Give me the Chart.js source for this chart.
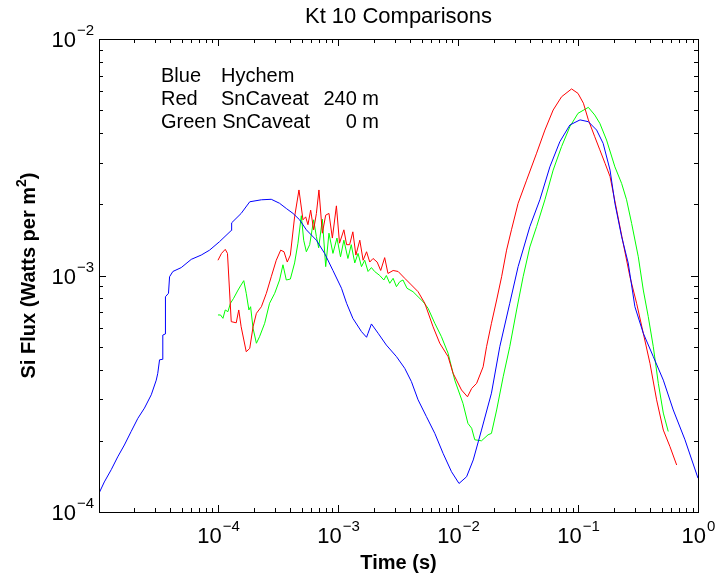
<!DOCTYPE html>
<html>
<head>
<meta charset="utf-8">
<script src="https://cdn.jsdelivr.net/npm/chart.js@4.4.1/dist/chart.umd.min.js"></script>
<style>
  html, body { margin: 0; padding: 0; background: #fff; }
  #wrap { width: 717px; height: 577px; }
</style>
</head>
<body>
<div id="wrap"><canvas id="canvasFlux" width="717" height="577"></canvas></div>
<script>
// Hychem (blue)
var blueTime = [1.02e-5, 1.13e-5, 1.29e-5, 1.46e-5, 1.66e-5, 1.89e-5, 2.15e-5, 2.44e-5, 2.78e-5, 3.06e-5,
    3.15e-5, 3.26e-5, 3.43e-5, 3.47e-5, 3.64e-5, 3.65e-5, 3.87e-5, 3.95e-5, 4.21e-5, 4.94e-5,
    5.99e-5, 7.25e-5, 8.51e-5, 1.03e-4, 1.29e-4, 1.30e-4, 1.56e-4, 1.84e-4, 2.30e-4, 2.78e-4,
    3.26e-4, 3.71e-4, 4.22e-4, 4.79e-4, 5.45e-4, 6.61e-4, 7.74e-4, 9.08e-4, 1.07e-3, 1.18e-3,
    1.33e-3, 1.57e-3, 1.73e-3, 1.78e-3, 1.90e-3, 2.16e-3, 2.53e-3, 3.07e-3, 3.60e-3, 4.09e-3,
    4.65e-3, 5.46e-3, 6.41e-3, 7.51e-3, 8.83e-3, 1.02e-2, 1.18e-2, 1.34e-2, 1.57e-2, 1.90e-2,
    2.23e-2, 2.70e-2, 3.17e-2, 3.97e-2, 4.81e-2, 5.83e-2, 7.06e-2, 8.56e-2, 1.04e-1, 1.22e-1,
    1.43e-1, 1.62e-1, 1.85e-1, 2.03e-1, 2.31e-1, 2.62e-1, 2.98e-1, 3.50e-1, 4.24e-1, 5.14e-1,
    6.22e-1, 7.79e-1, 1.0];
var blueFlux = [1.20e-4, 1.34e-4, 1.51e-4, 1.71e-4, 1.92e-4, 2.19e-4, 2.49e-4, 2.75e-4, 3.13e-4, 3.61e-4,
    3.86e-4, 4.40e-4, 4.42e-4, 5.60e-4, 5.66e-4, 8.13e-4, 8.41e-4, 9.88e-4, 1.04e-3, 1.08e-3,
    1.17e-3, 1.22e-3, 1.28e-3, 1.39e-3, 1.55e-3, 1.67e-3, 1.83e-3, 2.05e-3, 2.09e-3, 2.10e-3,
    2.02e-3, 1.92e-3, 1.83e-3, 1.72e-3, 1.56e-3, 1.41e-3, 1.24e-3, 1.05e-3, 8.83e-4, 7.63e-4,
    6.59e-4, 5.79e-4, 5.48e-4, 5.70e-4, 6.24e-4, 5.70e-4, 5.08e-4, 4.54e-4, 4.05e-4, 3.56e-4,
    2.98e-4, 2.53e-4, 2.15e-4, 1.77e-4, 1.48e-4, 1.32e-4, 1.41e-4, 1.66e-4, 2.22e-4, 3.18e-4,
    5.00e-4, 7.63e-4, 1.09e-3, 1.61e-3, 2.09e-3, 2.88e-3, 3.68e-3, 4.33e-3, 4.55e-3, 4.47e-3,
    4.12e-3, 3.62e-3, 2.79e-3, 2.02e-3, 1.46e-3, 1.13e-3, 7.38e-4, 5.70e-4, 4.54e-4, 3.61e-4,
    2.70e-4, 2.02e-4, 1.39e-4];

// SnCaveat 240 m (red)
var redTime = [1.00e-4, 1.07e-4, 1.15e-4, 1.20e-4, 1.29e-4, 1.42e-4, 1.49e-4, 1.56e-4, 1.72e-4, 1.84e-4,
    1.96e-4, 2.09e-4, 2.30e-4, 2.53e-4, 2.78e-4, 3.06e-4, 3.33e-4, 3.55e-4, 3.78e-4, 4.01e-4,
    4.35e-4, 4.73e-4, 5.11e-4, 5.38e-4, 5.62e-4, 5.92e-4, 6.27e-4, 6.61e-4, 6.94e-4, 7.41e-4,
    7.90e-4, 8.41e-4, 8.98e-4, 9.70e-4, 1.03e-3, 1.12e-3, 1.18e-3, 1.25e-3, 1.33e-3, 1.41e-3,
    1.52e-3, 1.62e-3, 1.73e-3, 1.84e-3, 1.96e-3, 2.12e-3, 2.27e-3, 2.45e-3, 2.61e-3, 2.88e-3,
    3.17e-3, 3.60e-3, 4.09e-3, 4.65e-3, 5.29e-3, 6.20e-3, 7.05e-3, 8.27e-3, 9.10e-3, 1.07e-2,
    1.20e-2, 1.30e-2, 1.43e-2, 1.62e-2, 1.73e-2, 1.90e-2, 2.10e-2, 2.31e-2, 2.54e-2, 2.79e-2,
    3.17e-2, 3.73e-2, 4.52e-2, 5.30e-2, 6.21e-2, 7.30e-2, 8.84e-2, 1.00e-1, 1.11e-1, 1.22e-1,
    1.38e-1, 1.52e-1, 1.68e-1, 1.85e-1, 2.10e-1, 2.38e-1, 2.71e-1, 3.08e-1, 3.50e-1, 3.98e-1,
    4.52e-1, 5.14e-1, 5.84e-1, 6.64e-1];
var redFlux = [1.16e-3, 1.24e-3, 1.29e-3, 1.24e-3, 6.38e-4, 6.31e-4, 7.15e-4, 6.07e-4, 4.76e-4, 4.92e-4,
    6.07e-4, 6.92e-4, 7.38e-4, 8.41e-4, 9.88e-4, 1.16e-3, 1.28e-3, 1.26e-3, 1.14e-3, 1.22e-3,
    1.77e-3, 2.30e-3, 1.72e-3, 1.77e-3, 1.64e-3, 1.89e-3, 1.56e-3, 1.83e-3, 2.30e-3, 1.51e-3,
    1.80e-3, 1.83e-3, 1.44e-3, 1.97e-3, 1.37e-3, 1.56e-3, 1.35e-3, 1.35e-3, 1.53e-3, 1.22e-3,
    1.41e-3, 1.16e-3, 1.26e-3, 1.14e-3, 1.18e-3, 1.14e-3, 1.05e-3, 1.19e-3, 1.02e-3, 1.05e-3,
    1.04e-3, 9.73e-4, 9.12e-4, 8.54e-4, 7.63e-4, 6.07e-4, 5.17e-4, 4.54e-4, 3.86e-4, 3.28e-4,
    3.07e-4, 3.33e-4, 3.50e-4, 4.11e-4, 5.00e-4, 6.28e-4, 7.88e-4, 9.88e-4, 1.28e-3, 1.56e-3,
    2.02e-3, 2.53e-3, 3.29e-3, 4.12e-3, 5.01e-3, 5.70e-3, 6.15e-3, 5.89e-3, 5.35e-3, 4.55e-3,
    3.86e-3, 3.40e-3, 2.98e-3, 2.62e-3, 1.89e-3, 1.37e-3, 9.88e-4, 7.63e-4, 5.70e-4, 4.25e-4,
    2.98e-4, 2.22e-4, 1.89e-4, 1.58e-4];

// SnCaveat 0 m (green)
var greenTime = [1.00e-4, 1.05e-4, 1.10e-4, 1.15e-4, 1.21e-4, 1.27e-4, 1.35e-4, 1.47e-4, 1.54e-4, 1.64e-4,
    1.72e-4, 1.81e-4, 1.87e-4, 1.96e-4, 2.09e-4, 2.22e-4, 2.45e-4, 2.69e-4, 2.97e-4, 3.26e-4,
    3.48e-4, 3.71e-4, 4.01e-4, 4.35e-4, 4.64e-4, 4.95e-4, 5.18e-4, 5.45e-4, 5.81e-4, 6.27e-4,
    6.61e-4, 6.90e-4, 7.41e-4, 7.90e-4, 8.41e-4, 9.08e-4, 9.81e-4, 1.05e-3, 1.12e-3, 1.21e-3,
    1.29e-3, 1.38e-3, 1.47e-3, 1.57e-3, 1.67e-3, 1.78e-3, 1.90e-3, 2.02e-3, 2.23e-3, 2.41e-3,
    2.53e-3, 2.70e-3, 2.88e-3, 3.07e-3, 3.27e-3, 3.48e-3, 3.76e-3, 4.22e-3, 4.65e-3, 5.12e-3,
    5.63e-3, 6.41e-3, 7.28e-3, 8.27e-3, 9.40e-3, 1.10e-2, 1.21e-2, 1.30e-2, 1.38e-2, 1.57e-2,
    1.78e-2, 1.90e-2, 2.10e-2, 2.38e-2, 2.70e-2, 3.08e-2, 3.49e-2, 3.97e-2, 4.52e-2, 5.30e-2,
    6.21e-2, 7.30e-2, 8.56e-2, 1.00e-1, 1.22e-1, 1.38e-1, 1.52e-1, 1.73e-1, 2.03e-1, 2.31e-1,
    2.54e-1, 2.80e-1, 3.18e-1, 3.50e-1, 3.85e-1, 4.24e-1, 4.67e-1, 5.14e-1, 5.65e-1];
var greenFlux = [6.81e-4, 6.81e-4, 6.59e-4, 7.15e-4, 7.03e-4, 7.63e-4, 8.01e-4, 8.68e-4, 9.03e-4, 9.51e-4,
    8.41e-4, 7.15e-4, 7.38e-4, 5.98e-4, 5.17e-4, 5.51e-4, 6.28e-4, 7.63e-4, 8.41e-4, 9.57e-4,
    1.11e-3, 9.57e-4, 9.66e-4, 1.13e-3, 1.37e-3, 1.79e-3, 1.41e-3, 1.26e-3, 1.35e-3, 1.72e-3,
    1.46e-3, 1.31e-3, 1.73e-3, 1.09e-3, 1.51e-3, 1.24e-3, 1.44e-3, 1.20e-3, 1.41e-3, 1.18e-3,
    1.35e-3, 1.13e-3, 1.24e-3, 1.09e-3, 1.16e-3, 1.04e-3, 1.08e-3, 1.04e-3, 1.00e-3, 9.57e-4,
    1.00e-3, 9.27e-4, 9.73e-4, 8.97e-4, 9.41e-4, 9.57e-4, 8.83e-4, 8.54e-4, 8.13e-4, 7.75e-4,
    7.27e-4, 6.28e-4, 5.51e-4, 4.69e-4, 3.61e-4, 2.88e-4, 2.37e-4, 2.26e-4, 2.02e-4, 2.00e-4,
    2.12e-4, 2.15e-4, 2.70e-4, 3.73e-4, 5.00e-4, 7.15e-4, 9.88e-4, 1.32e-3, 1.61e-3, 2.09e-3,
    2.79e-3, 3.51e-3, 4.26e-3, 4.85e-3, 5.14e-3, 4.77e-3, 4.40e-3, 3.74e-3, 2.88e-3, 2.45e-3,
    2.09e-3, 1.66e-3, 1.20e-3, 8.68e-4, 6.70e-4, 5.00e-4, 3.50e-4, 2.62e-4, 2.19e-4];

// axis ticks
var xMajor = [1e-4, 1e-3, 1e-2, 1e-1, 1e0];
var xMajorExp = ['\u22124', '\u22123', '\u22122', '\u22121', '0'];
var yMajor = [1e-4, 1e-3, 1e-2];
var yMajorExp = ['\u22124', '\u22123', '\u22122'];

var legendRows = [
    ['Blue', 'Hychem', ''],
    ['Red', 'SnCaveat', '240 m'],
    ['Green SnCaveat', '', '0 m']
];

function pairs(xs, ys) {
    let arr = [];
    for (let i = 0; i < xs.length; i++) {
        arr.push({ x: xs[i], y: ys[i] });
    }
    return arr;
}

var FONT = '"Liberation Sans", Arial, Helvetica, sans-serif';

function drawPow(ctx, exp, x, y, size, align) {
    // "10" with a raised exponent; align 'center' or 'right'
    let sup = 15;
    ctx.font = size + 'px ' + FONT;
    let wBase = ctx.measureText('10').width;
    ctx.font = sup + 'px ' + FONT;
    let wExp = ctx.measureText(exp).width;
    let start = align === 'right' ? x - wBase - wExp : x - (wBase + wExp) / 2;
    ctx.textAlign = 'left';
    ctx.textBaseline = 'alphabetic';
    ctx.font = size + 'px ' + FONT;
    ctx.fillText('10', start, y);
    ctx.font = sup + 'px ' + FONT;
    ctx.fillText(exp, start + wBase + 1, y - 12);
}

var axesPlugin = {
    id: 'matlabAxes',
    afterDraw: function (chart) {
        let ctx = chart.ctx;
        let a = chart.chartArea;
        let xs = chart.scales.x, ys = chart.scales.y;
        ctx.save();
        ctx.strokeStyle = '#000';
        ctx.lineWidth = 1;
        ctx.strokeRect(Math.round(a.left) + 0.5, Math.round(a.top) + 0.5,
            Math.round(a.right - a.left), Math.round(a.bottom - a.top));

        // ticks, inward on all four sides
        ctx.beginPath();
        for (let e = -5; e <= 0; e++) {
            for (let m = 1; m <= 9; m++) {
                let v = m * Math.pow(10, e);
                if (v < xs.min || v > xs.max) continue;
                let px = Math.round(xs.getPixelForValue(v)) + 0.5;
                let len = m === 1 ? 7 : 4;
                ctx.moveTo(px, a.bottom); ctx.lineTo(px, a.bottom - len);
                ctx.moveTo(px, a.top); ctx.lineTo(px, a.top + len);
            }
        }
        for (let e = -4; e <= -2; e++) {
            for (let m = 1; m <= 9; m++) {
                let v = m * Math.pow(10, e);
                if (v < ys.min * 0.999 || v > ys.max * 1.001) continue;
                let py = Math.round(ys.getPixelForValue(v)) + 0.5;
                let len = m === 1 ? 7 : 4;
                ctx.moveTo(a.left, py); ctx.lineTo(a.left + len, py);
                ctx.moveTo(a.right, py); ctx.lineTo(a.right - len, py);
            }
        }
        ctx.stroke();

        ctx.fillStyle = '#000';
        for (let i = 0; i < xMajor.length; i++) {
            let px = xs.getPixelForValue(xMajor[i]);
            drawPow(ctx, xMajorExp[i], px, a.bottom + 31, 22, 'center');
        }
        for (let i = 0; i < yMajor.length; i++) {
            let py = ys.getPixelForValue(yMajor[i]);
            drawPow(ctx, yMajorExp[i], a.left - 6, py + 8, 22, 'right');
        }

        // title
        ctx.textAlign = 'center';
        ctx.textBaseline = 'alphabetic';
        ctx.font = '22px ' + FONT;
        ctx.fillText('Kt 10 Comparisons', (a.left + a.right) / 2, 23);

        // x title
        ctx.font = 'bold 20px ' + FONT;
        ctx.fillText('Time (s)', (a.left + a.right) / 2, 569);

        // y title, rotated
        ctx.save();
        ctx.translate(35, (a.top + a.bottom) / 2);
        ctx.rotate(-Math.PI / 2);
        let p1 = 'Si Flux (Watts per m', p2 = '2', p3 = ')';
        ctx.font = 'bold 20px ' + FONT;
        let w1 = ctx.measureText(p1).width, w3 = ctx.measureText(p3).width;
        ctx.font = 'bold 14px ' + FONT;
        let w2 = ctx.measureText(p2).width;
        let sx = -(w1 + w2 + w3) / 2;
        ctx.textAlign = 'left';
        ctx.font = 'bold 20px ' + FONT;
        ctx.fillText(p1, sx, 0);
        ctx.font = 'bold 14px ' + FONT;
        ctx.fillText(p2, sx + w1, -9);
        ctx.font = 'bold 20px ' + FONT;
        ctx.fillText(p3, sx + w1 + w2, 0);
        ctx.restore();

        // text legend
        ctx.font = '20px ' + FONT;
        for (let i = 0; i < legendRows.length; i++) {
            let by = 82 + i * 23.2;
            ctx.textAlign = 'left';
            ctx.fillText(legendRows[i][0], 161, by);
            if (legendRows[i][1]) ctx.fillText(legendRows[i][1], 221, by);
            ctx.textAlign = 'right';
            if (legendRows[i][2]) ctx.fillText(legendRows[i][2], 379, by);
        }
        ctx.restore();
    }
};

function lineSet(label, xs, ys, color) {
    return {
        label: label,
        data: pairs(xs, ys),
        borderColor: color,
        backgroundColor: color,
        borderWidth: 1,
        pointRadius: 0,
        fill: false,
        tension: 0
    };
}

var config = {
    type: 'line',
    data: {
        datasets: [
            lineSet('Hychem', blueTime, blueFlux, '#0000ff'),
            lineSet('SnCaveat 240 m', redTime, redFlux, '#ff0000'),
            lineSet('SnCaveat 0 m', greenTime, greenFlux, '#00ff00')
        ]
    },
    options: {
        animation: false,
        responsive: false,
        devicePixelRatio: 1,
        layout: { padding: { left: 99, right: 19, top: 39, bottom: 65 } },
        scales: {
            x: { type: 'logarithmic', min: 1.02e-5, max: 1, display: false },
            y: { type: 'logarithmic', min: 1e-4, max: 1e-2, display: false }
        },
        plugins: {
            legend: { display: false },
            title: { display: false },
            tooltip: { enabled: false }
        }
    },
    plugins: [axesPlugin]
};

var ctx = document.getElementById('canvasFlux').getContext('2d');
var myChartFlux = new Chart(ctx, config);
</script>
</body>
</html>
